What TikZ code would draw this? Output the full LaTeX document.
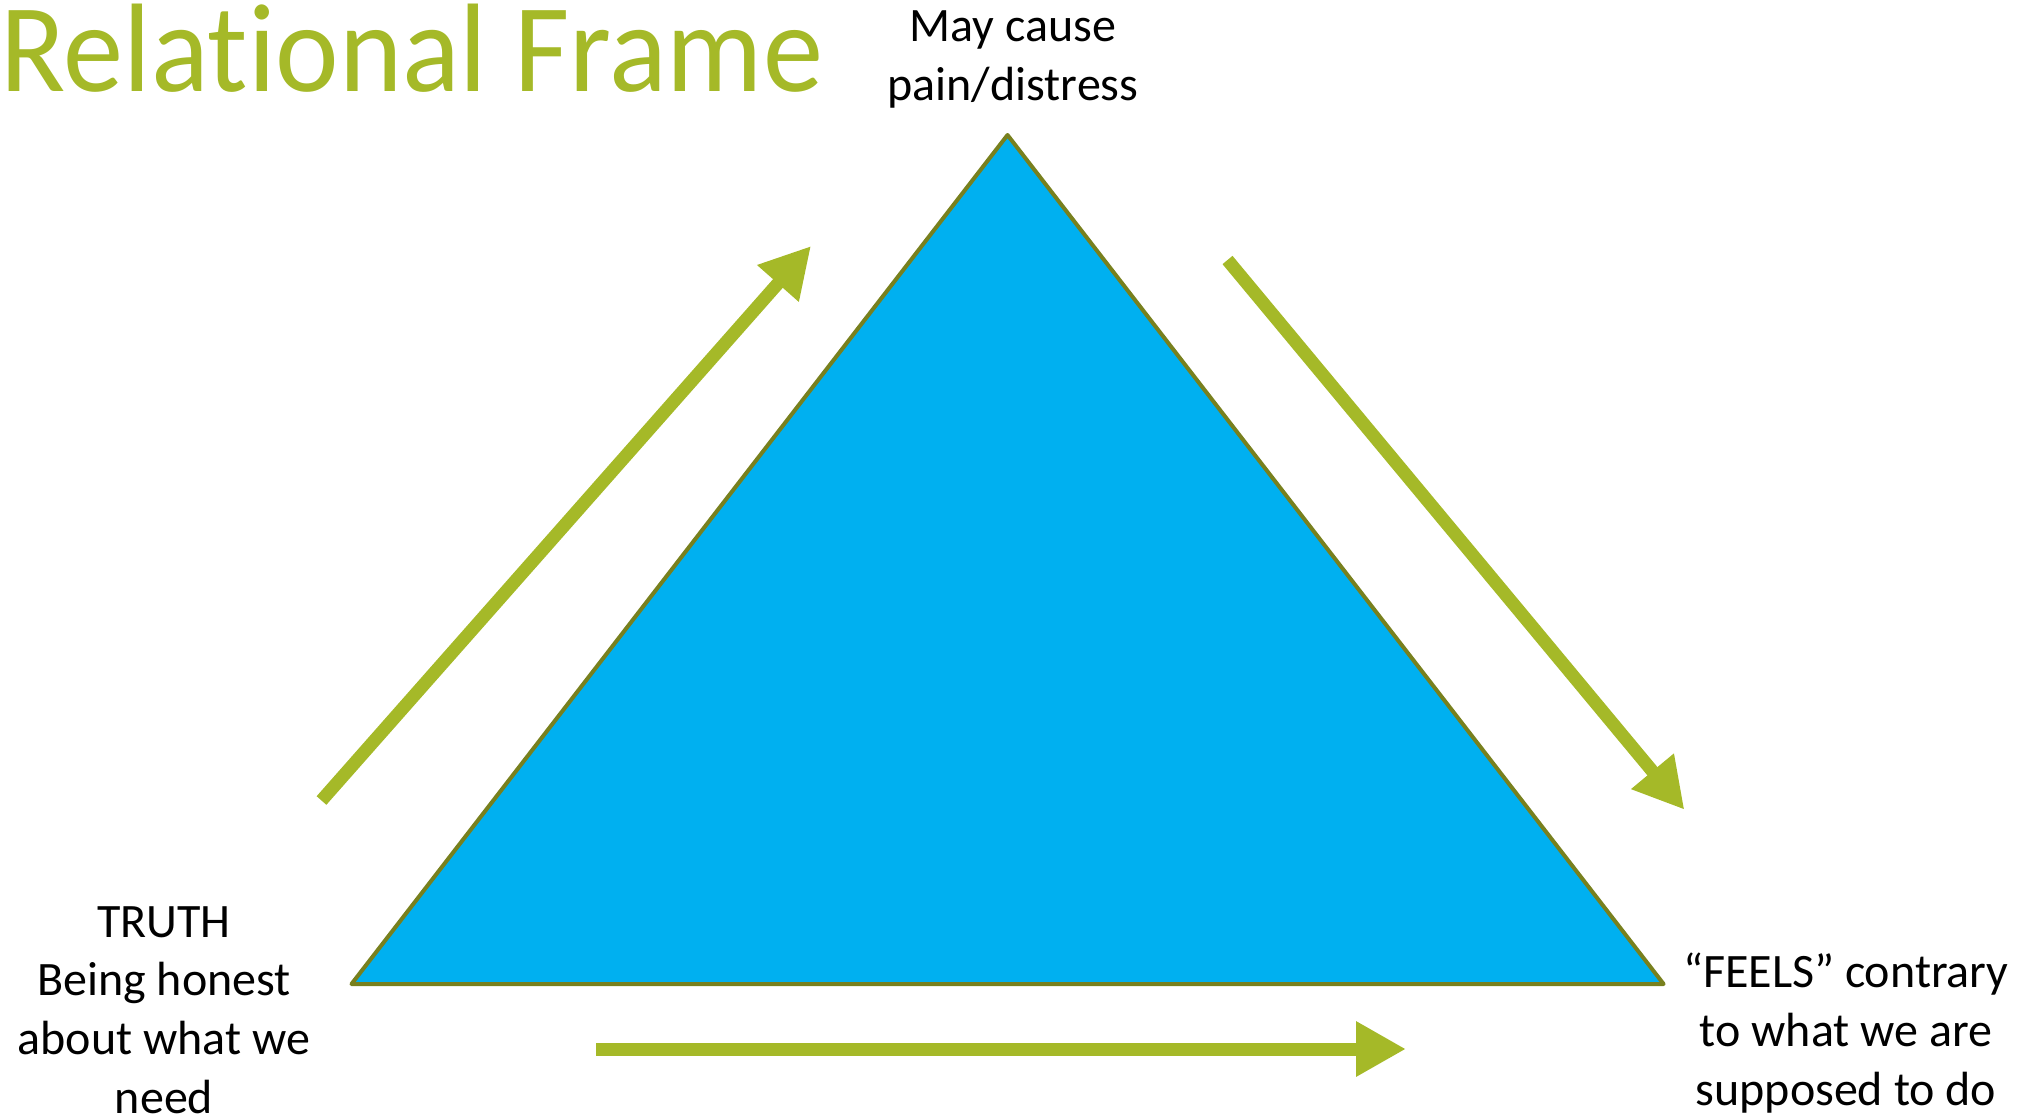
\documentclass[tikz,border=0pt]{standalone}
\usepackage{fontspec}
\setmainfont{Carlito}
\usepackage{xcolor}
\usetikzlibrary{arrows.meta}
\definecolor{framegreen}{RGB}{165,185,40}
\definecolor{frameblue}{RGB}{0,176,240}
\definecolor{frameolive}{RGB}{120,128,30}

\begin{document}
\begin{tikzpicture}[x=0.5pt,y=-0.5pt,
  flow/.style={line width=6.5pt,draw=framegreen,-{Triangle[length=25pt,width=26pt]}},
  corner/.style={align=center,anchor=base,inner sep=0pt,font=\fontsize{24}{29.3}\selectfont}]
\useasboundingbox (0,0) rectangle (2041,1119);
% title
\node[anchor=base west,inner sep=0pt,text=framegreen,font=\fontsize{63}{70}\selectfont\addfontfeatures{Ligatures=NoCommon}](title) at (0,91){\scalebox{0.955}[1]{Relational Frame}};
% triangle
\coordinate (apex) at (1007.5,135);
\coordinate (bl) at (351.5,984);
\coordinate (br) at (1663.6,984);
\filldraw[fill=frameblue,draw=frameolive,line width=2pt,line join=round](bl)--(apex)--(br)--cycle;
% corner texts (base = last line)
\node[corner](pain) at (1013,100){May cause\\pain/distress};
\node[corner](truth) at (164,1113){TRUTH\\Being honest\\about what we\\need};
\node[corner](feels) at (1846,1105){``FEELS'' contrary\\to what we are\\supposed to do};
% arrows
\coordinate (a1s) at (321.5,800.5);
\coordinate (a1e) at (811,246);
\coordinate (a2s) at (1227.5,260);
\coordinate (a2e) at (1684.4,809.7);
\coordinate (a3s) at (596,1049);
\coordinate (a3e) at (1406,1049);
\draw[flow](a1s)--(a1e);
\draw[flow](a2s)--(a2e);
\draw[flow](a3s)--(a3e);
\end{tikzpicture}
\end{document}
